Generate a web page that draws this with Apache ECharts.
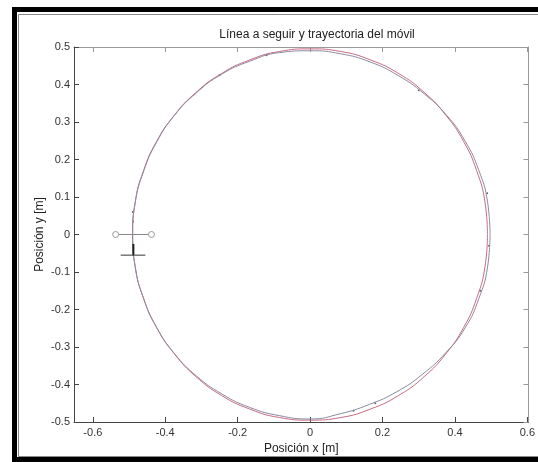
<!DOCTYPE html>
<html>
<head>
<meta charset="utf-8">
<script src="https://cdn.jsdelivr.net/npm/echarts@6/dist/echarts.min.js"></script>
<style>html,body{margin:0;padding:0;background:#fff}#c{width:538px;height:462px}</style>
</head>
<body>
<div id="c"></div>
<script>
// Tick labels
var xTicks = [-0.6, -0.4, -0.2, 0, 0.2, 0.4, 0.6];
var yTicks = [-0.5, -0.4, -0.3, -0.2, -0.1, 0, 0.1, 0.2, 0.3, 0.4, 0.5];

// Reference line (circle)
var refX = [0.490, 0.483, 0.460, 0.424, 0.375, 0.315, 0.245, 0.168, 0.085, 0.000,
  -0.085, -0.168, -0.245, -0.315, -0.375, -0.424, -0.460, -0.483, -0.490,
  -0.483, -0.460, -0.424, -0.375, -0.315, -0.245, -0.168, -0.085, 0.000,
  0.085, 0.168, 0.245, 0.315, 0.375, 0.424, 0.460, 0.483, 0.490];
var refY = [0.000, 0.086, 0.170, 0.248, 0.318, 0.379, 0.429, 0.465, 0.488, 0.495,
  0.488, 0.465, 0.429, 0.379, 0.318, 0.248, 0.170, 0.086, 0.000,
  -0.086, -0.170, -0.248, -0.318, -0.379, -0.429, -0.465, -0.488, -0.495,
  -0.488, -0.465, -0.429, -0.379, -0.318, -0.248, -0.170, -0.086, 0.000];

// Trajectory of the robot
var trajX = [0.497, 0.490, 0.466, 0.428, 0.377, 0.314, 0.243, 0.166, 0.084, 0.000,
  -0.085, -0.167, -0.245, -0.315, -0.375, -0.424, -0.460, -0.483, -0.490,
  -0.483, -0.460, -0.424, -0.375, -0.314, -0.244, -0.167, -0.085, 0.000,
  0.083, 0.164, 0.240, 0.310, 0.374, 0.428, 0.466, 0.490, 0.497];
var trajY = [0.000, 0.087, 0.171, 0.249, 0.318, 0.376, 0.424, 0.460, 0.482, 0.490,
  0.485, 0.462, 0.427, 0.377, 0.317, 0.246, 0.168, 0.085, 0.000,
  -0.086, -0.170, -0.247, -0.317, -0.377, -0.425, -0.461, -0.483, -0.492,
  -0.478, -0.453, -0.419, -0.373, -0.316, -0.249, -0.171, -0.087, 0.000];

// Sparse dark dots along trajectory
var dotX = [0.494, 0.489, 0.470, -0.490, -0.489, 0.180, -0.250, 0.300, -0.120, 0.120];
var dotY = [-0.030, 0.110, -0.150, 0.060, 0.035, -0.450, 0.425, 0.385, 0.478, -0.470];

// Robot drawing
var axleX = [-0.537, -0.438];
var axleY = [0.000, 0.000];
var bodyX = [-0.488, -0.488];
var bodyY = [-0.025, -0.055];
var baseX = [-0.523, -0.455];
var baseY = [-0.055, -0.055];

function pairs(xs, ys) { return xs.map(function (v, i) { return [v, ys[i]]; }); }
function fmt(v) { var r = Math.round(v * 10) / 10; return r === 0 ? '0' : String(r); }

var axisCol = '#444';
var txtCol = '#333';
var chart = echarts.init(document.getElementById('c'));
chart.setOption({
  backgroundColor: '#fff',
  animation: false,
  title: {
    text: 'Línea a seguir y trayectoria del móvil',
    left: 312, top: 24, textAlign: 'center',
    textStyle: { fontFamily: 'Liberation Sans', fontSize: 12, fontWeight: 'normal', color: '#222' }
  },
  grid: { left: 74, right: 6, top: 47, bottom: 40 },
  xAxis: [{
    type: 'value', min: -0.652, max: 0.603, position: 'bottom',
    name: 'Posición x [m]', nameLocation: 'middle', nameGap: 18,
    nameTextStyle: { fontFamily: 'Liberation Sans', fontSize: 12, color: '#222' },
    axisLine: { onZero: false, lineStyle: { color: axisCol, width: 1 } },
    axisTick: { inside: true, length: 5, customValues: xTicks, lineStyle: { color: axisCol } },
    axisLabel: { customValues: xTicks, formatter: fmt, margin: 5, fontFamily: 'Liberation Sans', fontSize: 11, color: txtCol },
    splitLine: { show: false }
  }, {
    type: 'value', min: -0.652, max: 0.603, position: 'top',
    axisLine: { onZero: false, lineStyle: { color: '#999', width: 1 } },
    axisTick: { inside: true, length: 5, customValues: xTicks, lineStyle: { color: '#999' } },
    axisLabel: { show: false }, splitLine: { show: false }
  }],
  yAxis: [{
    type: 'value', min: -0.5, max: 0.5, interval: 0.1, position: 'left',
    name: 'Posición y [m]', nameLocation: 'middle', nameGap: 28, nameRotate: 90,
    nameMoveOverlap: false,
    nameTextStyle: { fontFamily: 'Liberation Sans', fontSize: 12, color: '#222' },
    axisLine: { onZero: false, lineStyle: { color: axisCol, width: 1 } },
    axisTick: { inside: true, length: 5, lineStyle: { color: axisCol } },
    axisLabel: { formatter: fmt, margin: 4, fontFamily: 'Liberation Sans', fontSize: 11, color: txtCol },
    splitLine: { show: false }
  }, {
    type: 'value', min: -0.5, max: 0.5, interval: 0.1, position: 'right',
    axisLine: { onZero: false, lineStyle: { color: '#999', width: 1 } },
    axisTick: { inside: true, length: 5, lineStyle: { color: '#999' } },
    axisLabel: { show: false }, splitLine: { show: false }
  }],
  graphic: [
    { type: 'rect', silent: true, z: 100, shape: { x: 14.5, y: 9.5, width: 600, height: 450 }, style: { fill: 'none', stroke: '#000', lineWidth: 5 } },
    { type: 'rect', silent: true, z: 100, shape: { x: 18.5, y: 14.5, width: 600, height: 442 }, style: { fill: 'none', stroke: '#888', lineWidth: 1 } }
  ],
  series: [
    { name: 'ref', type: 'line', data: pairs(refX, refY), smooth: true, showSymbol: false,
      lineStyle: { color: '#c86a82', width: 1 } },
    { name: 'traj', type: 'line', data: pairs(trajX, trajY), smooth: true, showSymbol: false,
      lineStyle: { color: '#8c8aa0', width: 1 } },
    { name: 'dots', type: 'scatter', data: pairs(dotX, dotY), symbolSize: 2,
      itemStyle: { color: '#444' } },
    { name: 'axle', type: 'line', data: pairs(axleX, axleY), symbol: 'circle', symbolSize: 6, showSymbol: true,
      lineStyle: { color: '#888', width: 1 }, itemStyle: { color: '#fff', borderColor: '#999', borderWidth: 1 } },
    { name: 'body', type: 'line', data: pairs(bodyX, bodyY), showSymbol: false,
      lineStyle: { color: '#222', width: 2 } },
    { name: 'base', type: 'line', data: pairs(baseX, baseY), showSymbol: false,
      lineStyle: { color: '#333', width: 1 } }
  ]
});
</script>
</body>
</html>
